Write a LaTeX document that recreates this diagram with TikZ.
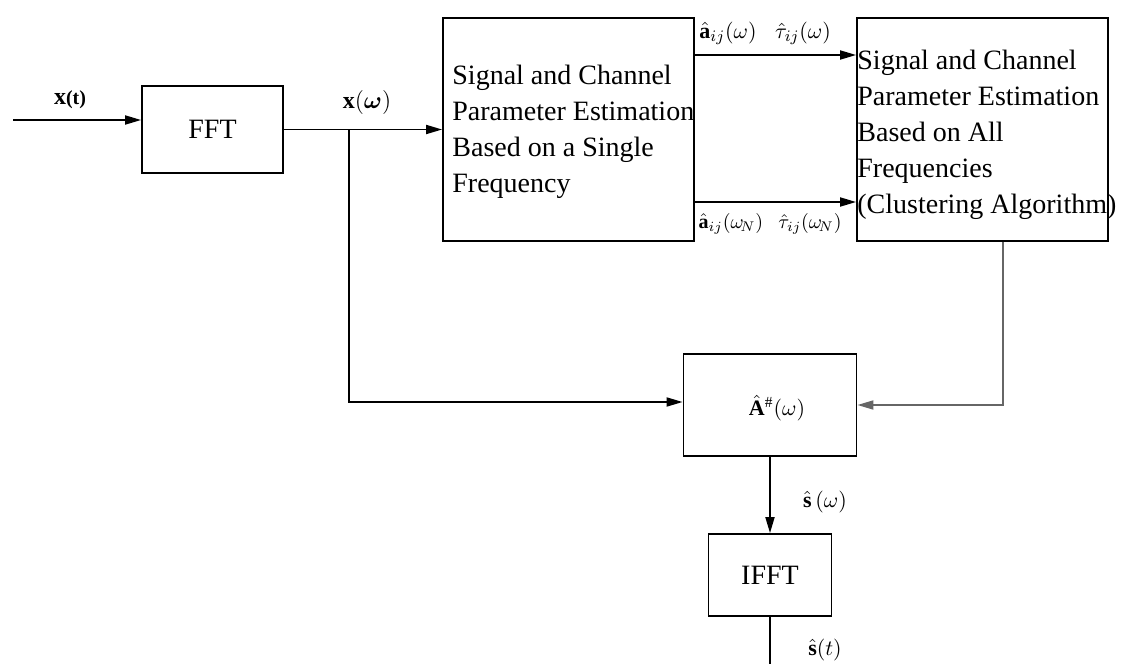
\documentclass[tikz,border=0pt]{standalone}
\usepackage{fontspec}
\usepackage{amsmath,amssymb,bm}
\setmainfont{Liberation Serif}
\usetikzlibrary{arrows.meta}
\begin{document}
\begin{tikzpicture}[x=0.5pt,y=-0.5pt,
  blk/.style={draw,line width=0.9pt,inner sep=0pt},
  btxt/.style={font=\fontsize{14}{18}\selectfont,align=left,inner sep=0pt},
  lbl/.style={font=\fontsize{11}{13}\selectfont,inner sep=0pt},
  slbl/.style={font=\fontsize{10}{12}\selectfont,inner sep=0pt},
  conn/.style={line width=0.9pt,-{Triangle[length=8pt,width=4.5pt]}},
  wire/.style={line width=0.9pt}]
\useasboundingbox (0,0) rectangle (1121,664);
% blocks
\node[blk,minimum width=70.5pt,minimum height=43.5pt,font=\fontsize{14}{18}\selectfont] (fft) at (212.5,129.5) {FFT};
\node[blk,minimum width=125.5pt,minimum height=111.5pt] (est1) at (568.5,129.5) {};
\node[btxt,anchor=west] (est1t) at (452,131.5) {Signal and Channel\\Parameter Estimation\\Based on a Single\\Frequency};
\node[blk,minimum width=125.5pt,minimum height=111.5pt] (est2) at (982.5,129.5) {};
\node[btxt,anchor=west] (est2t) at (857,135) {Signal and Channel\\Parameter Estimation\\Based on All\\Frequencies\\(Clustering Algorithm)};
\node[blk,minimum width=86.5pt,minimum height=51pt,font=\fontsize{11}{13}\selectfont,text depth=0pt] (ainv) at (770,405) {\hspace{7pt}$\hat{\mathbf{A}}^{\#}(\omega)$};
\node[blk,minimum width=61.5pt,minimum height=41pt,font=\fontsize{14}{18}\selectfont] (ifft) at (770,575) {IFFT};
% coordinates
\coordinate (in) at (13,120);
\coordinate (split) at (349,129.5);
\coordinate (out) at (770,664);
% connectors
\draw[conn] (in) -- (fft.west |- in);
\draw[conn] (fft.east) -- (est1.west);
\draw[conn] (split) |- ([yshift=1.5pt]ainv.west);
\draw[conn] ([yshift=37.25pt]est1.east) -- ([yshift=37.25pt]est2.west);
\draw[conn] ([yshift=-36.25pt]est1.east) -- ([yshift=-36.25pt]est2.west);
\draw[conn,draw=black!60] ([xshift=10.25pt]est2.south) |- (ainv.east);
\draw[conn] (ainv.south) -- (ifft.north);
\draw[wire] (ifft.south) -- (out);
% labels
\node[lbl] (lxt) at (70,100) {\fontsize{12}{14}\selectfont\textbf{x}{\fontsize{10}{12}\selectfont\textbf{(t)}}};
\node[lbl] (lxw) at (367,102) {\fontsize{12}{14}\selectfont$\mathbf{x}(\bm{\omega})$};
\node[lbl] (la1) at (728,33) {$\hat{\mathbf{a}}_{ij}(\omega)$};
\node[lbl] (lt1) at (803,33) {$\hat{\tau}_{ij}(\omega)$};
\node[slbl] (la2) at (731,224) {$\hat{\mathbf{a}}_{ij}(\omega_{\!N})$};
\node[slbl] (lt2) at (810,224) {$\hat{\tau}_{ij}(\omega_{\!N})$};
\node[lbl] (lsw) at (825,502) {$\hat{\mathbf{s}}\,(\omega)$};
\node[lbl] (lst) at (825,650) {$\hat{\mathbf{s}}(t)$};
\end{tikzpicture}
\end{document}
